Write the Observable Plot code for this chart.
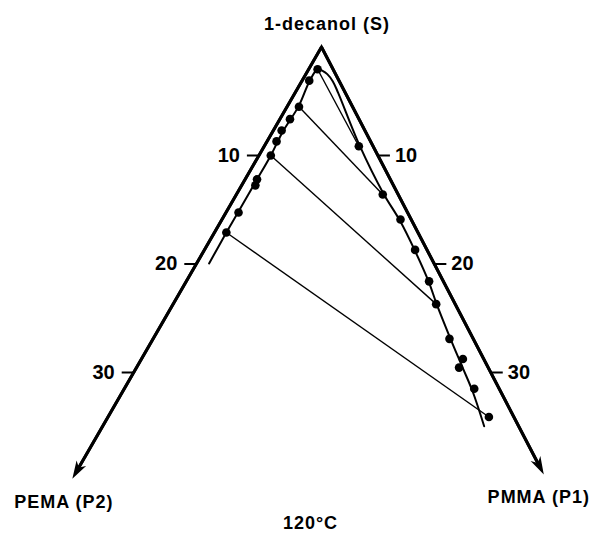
<!DOCTYPE html>
<html>
<head>
<meta charset="utf-8">
<script src="https://cdn.jsdelivr.net/npm/d3@7"></script>
<script src="https://cdn.jsdelivr.net/npm/@observablehq/plot@0.6"></script>
<style>
  html, body { margin: 0; padding: 0; background: #fff; }
  #chart { width: 595px; height: 536px; }
</style>
</head>
<body>
<div id="chart"></div>
<script>
// ---- Data (compositions in wt %: P2 = PEMA, P1 = PMMA, rest = 1-decanol) ----
const leftDotsP2  = [1.3, 2.5, 4.5, 5.8, 7.0, 7.9, 9.0, 11.2, 11.6, 14.2, 16.1];
const leftDotsP1  = [0.75, 0.6, 1.0, 0.85, 0.7, 0.8, 1.0, 1.0, 1.15, 1.05, 1.0];
const rightDotsP2 = [1.2, 1.3, 0.9, 1.0, 1.2, 1.6, 2.0, 1.75, 2.45, 2.1, 2.1];
const rightDotsP1 = [7.95, 12.3, 15.0, 17.7, 20.4, 22.1, 24.9, 27.0, 27.1, 29.4, 32.0];

const binodalP2 = [18.9, 16.1, 14.2, 11.4, 9.0, 7.0, 4.5, 2.5, 1.3, 0.95, 0.7, 0.55, 0.6, 1.1, 1.2, 1.0, 1.05, 1.25, 1.55, 1.9, 2.15, 2.35, 2.9];
const binodalP1 = [1.05, 1.0, 1.0, 1.0, 1.0, 0.85, 0.95, 0.65, 0.75, 1.25, 1.8, 2.6, 3.6, 7.95, 12.3, 15.0, 17.7, 20.4, 22.1, 24.9, 27.4, 29.4, 32.05];

const tieFromP2 = [1.3, 4.5, 9.0, 16.1];
const tieFromP1 = [0.75, 1.0, 1.0, 1.0];
const tieToP2   = [1.2, 1.3, 1.6, 2.1];
const tieToP1   = [7.95, 12.3, 22.1, 32.0];

const tickValues = [10, 20, 30];
const tickLabels = ["10", "20", "30"];
const axisEndP2 = 39.8;   // PEMA axis (left)
const axisEndP1 = 39.4;   // PMMA axis (right)

const apexLabel = "1-decanol (S)";
const leftLabel = "PEMA (P2)";
const rightLabel = "PMMA (P1)";
const tempLabel = "120°C";

// ---- Ternary projection (apex = pure solvent) ----
const LEFT_SLOPE = -0.577, RIGHT_SLOPE = 0.52;
const px = (p2, p1) => LEFT_SLOPE * p2 + RIGHT_SLOPE * p1;
const py = (p2, p1) => p2 + p1;

const W = 595, H = 536, APEX_X = 321, APEX_Y = 46.5, UNIT = 10.85;

const leftDots = leftDotsP2.map((p2, i) => ({x: px(p2, leftDotsP1[i]), y: py(p2, leftDotsP1[i])}));
const rightDots = rightDotsP2.map((p2, i) => ({x: px(p2, rightDotsP1[i]), y: py(p2, rightDotsP1[i])}));
const dots = leftDots.concat(rightDots);
const binodal = binodalP2.map((p2, i) => ({x: px(p2, binodalP1[i]), y: py(p2, binodalP1[i])}));
const ties = tieFromP2.map((p2, i) => ({
  x1: px(p2, tieFromP1[i]), y1: py(p2, tieFromP1[i]),
  x2: px(tieToP2[i], tieToP1[i]), y2: py(tieToP2[i], tieToP1[i])
}));

// axis shafts stop a little short of the tip; filled arrowheads at the tips
const SHORT = 0.9;
const axes = [
  {x1: 0, y1: 0, x2: px(axisEndP2 - SHORT, 0), y2: py(axisEndP2 - SHORT, 0)},
  {x1: 0, y1: 0, x2: px(0, axisEndP1 - SHORT), y2: py(0, axisEndP1 - SHORT)}
];
const heads = [
  {x: px(axisEndP2, 0), y: py(axisEndP2, 0), dx: LEFT_SLOPE, dy: 1},
  {x: px(0, axisEndP1), y: py(0, axisEndP1), dx: RIGHT_SLOPE, dy: 1}
].map(h => ({...h, angle: Math.atan2(h.dx, -h.dy) * 180 / Math.PI}));

const arrowHead = {
  draw(context) {
    // tip at origin, pointing up (toward -y)
    context.moveTo(0, 0);
    context.lineTo(5.5, 18);
    context.lineTo(0, 13);
    context.lineTo(-5.5, 18);
    context.closePath();
  }
};

const TICK = 12 / UNIT;
const leftTicks = tickValues.map((t, i) => ({x: px(t, 0), y: py(t, 0), label: tickLabels[i]}));
const rightTicks = tickValues.map((t, i) => ({x: px(0, t), y: py(0, t), label: tickLabels[i]}));

const font = "'Liberation Sans', Arial, Helvetica, sans-serif";

const chart = Plot.plot({
  width: W, height: H,
  margin: 0,
  style: {background: "white", fontFamily: font},
  x: {domain: [-APEX_X / UNIT, (W - APEX_X) / UNIT], range: [0, W], axis: null},
  y: {domain: [-APEX_Y / UNIT, (H - APEX_Y) / UNIT], range: [0, H], axis: null},
  marks: [
    Plot.link(axes, {x1: "x1", y1: "y1", x2: "x2", y2: "y2", stroke: "black", strokeWidth: 3}),
    Plot.line([axes[0], axes[1]].flatMap((a, i) => i === 0 ? [{x: a.x2, y: a.y2}, {x: 0, y: 0}] : [{x: a.x2, y: a.y2}]),
      {x: "x", y: "y", stroke: "black", strokeWidth: 3, strokeLinejoin: "miter", strokeMiterlimit: 10}),
    Plot.dot(heads, {x: "x", y: "y", rotate: "angle", symbol: arrowHead, r: 5, fill: "black", stroke: "none"}),
    Plot.link(leftTicks, {x1: "x", y1: "y", x2: d => d.x - TICK, y2: "y", stroke: "black", strokeWidth: 2}),
    Plot.link(rightTicks, {x1: "x", y1: "y", x2: d => d.x + TICK, y2: "y", stroke: "black", strokeWidth: 2}),
    Plot.text(leftTicks, {x: "x", y: "y", text: "label", textAnchor: "end", dx: -19,
      fontSize: 20, fontWeight: "bold", fill: "black"}),
    Plot.text(rightTicks, {x: "x", y: "y", text: "label", textAnchor: "start", dx: 17,
      fontSize: 20, fontWeight: "bold", fill: "black"}),
    Plot.line(binodal, {x: "x", y: "y", curve: "catmull-rom", stroke: "black", strokeWidth: 2}),
    Plot.link(ties, {x1: "x1", y1: "y1", x2: "x2", y2: "y2", stroke: "black", strokeWidth: 1.4}),
    Plot.dot(dots, {x: "x", y: "y", r: 4.3, fill: "black", stroke: "none"}),
    Plot.text([apexLabel], {x: 0, y: 0, text: d => d, dx: 5.5, dy: -22.8,
      fontSize: 18, fontWeight: "bold", fill: "black"}),
    Plot.text([leftLabel], {x: heads[0].x, y: heads[0].y, text: d => d, dx: -8.5, dy: 23,
      fontSize: 18, fontWeight: "bold", fill: "black"}),
    Plot.text([rightLabel], {x: heads[1].x, y: heads[1].y, text: d => d, dx: -5, dy: 22.3,
      fontSize: 18, fontWeight: "bold", fill: "black"}),
    Plot.text([tempLabel], {frameAnchor: "bottom", text: d => d, dx: 12.5, dy: -8,
      fontSize: 18, fontWeight: "bold", fill: "black"})
  ]
});
// letter spacing for headline labels
chart.querySelectorAll("text").forEach(t => {
  if (t.textContent.length > 3) t.setAttribute("letter-spacing", "1");
});
document.getElementById("chart").appendChild(chart);
</script>
</body>
</html>
